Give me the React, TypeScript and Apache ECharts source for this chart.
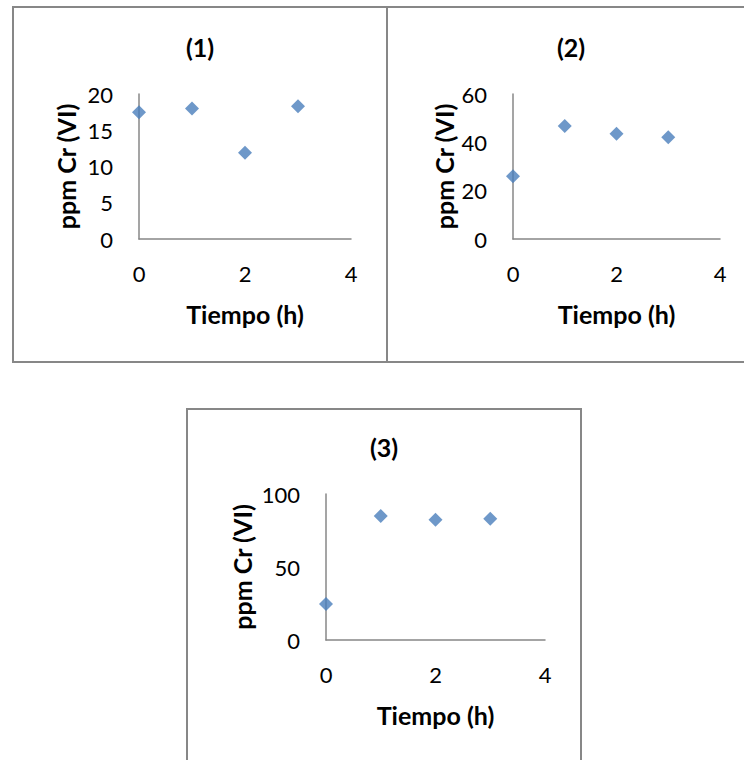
import React, { useEffect, useRef } from "react";
import * as echarts from "echarts";

const hours = [0, 1, 2, 3];
const panel1Values = [17.5, 18.0, 11.9, 18.3];
const panel2Values = [26.0, 46.8, 43.6, 42.1];
const panel3Values = [24.6, 85.0, 82.4, 83.1];
const panelTitles = ["(1)", "(2)", "(3)"];
const yMax = [20, 60, 100];
const yInterval = [5, 20, 50];
const xName = "Tiempo (h)";
const yName = "ppm Cr (VI)";

const FONT = "Lato, 'Open Sans', sans-serif";
const GRAY = "#878787";
const BLUE = "#4A7EBB";

export default function App() {
  const ref = useRef<HTMLDivElement>(null);
  useEffect(() => {
    if (!ref.current) return;
    const chart = echarts.init(ref.current, undefined, { renderer: "svg" });
    const values = [panel1Values, panel2Values, panel3Values];
    const grids = [
      { left: 139, top: 94, width: 212, height: 145 },
      { left: 513, top: 94, width: 207, height: 145 },
      { left: 326, top: 494, width: 219, height: 146 },
    ];
    const yNameGap = [73, 69, 84];
    const titlePos = [
      [200, 47],
      [571, 47],
      [384, 447],
    ];
    chart.setOption({
      animation: false,
      backgroundColor: "#ffffff",
      grid: grids.map((g) => ({ ...g, containLabel: false })),
      xAxis: grids.map((_, i) => ({
        type: "value",
        gridIndex: i,
        min: 0,
        max: 4,
        interval: 2,
        name: xName,
        nameLocation: "middle",
        nameGap: 75,
        nameTextStyle: {
          fontFamily: FONT,
          fontWeight: "bold",
          fontSize: 25,
          color: "#000",
          verticalAlign: "middle",
        },
        axisLine: { show: true, onZero: false, lineStyle: { color: GRAY, width: 1.5 } },
        axisTick: { show: false },
        splitLine: { show: false },
        axisLabel: { fontFamily: FONT, fontSize: 22, color: "#000", margin: 23 },
      })),
      yAxis: grids.map((_, i) => ({
        type: "value",
        gridIndex: i,
        min: 0,
        max: yMax[i],
        interval: yInterval[i],
        name: yName,
        nameLocation: "middle",
        nameGap: yNameGap[i],
        nameTextStyle: {
          fontFamily: FONT,
          fontWeight: "bold",
          fontSize: 25,
          color: "#000",
          verticalAlign: "middle",
        },
        axisLine: { show: true, onZero: false, lineStyle: { color: GRAY, width: 1.5 } },
        axisTick: { show: false },
        splitLine: { show: false },
        axisLabel: { fontFamily: FONT, fontSize: 22, color: "#000", margin: 26 },
      })),
      series: values.map((vals, i) => ({
        type: "scatter",
        xAxisIndex: i,
        yAxisIndex: i,
        symbol: "diamond",
        symbolSize: 14,
        itemStyle: { color: BLUE },
        data: hours.map((h, k) => [h, vals[k]]),
      })),
      graphic: [
        {
          type: "rect",
          shape: { x: 13, y: 7, width: 374, height: 355 },
          style: { fill: "none", stroke: GRAY, lineWidth: 2 },
        },
        {
          type: "rect",
          shape: { x: 387, y: 7, width: 362, height: 355 },
          style: { fill: "none", stroke: GRAY, lineWidth: 2 },
        },
        {
          type: "rect",
          shape: { x: 187, y: 409, width: 394, height: 360 },
          style: { fill: "none", stroke: GRAY, lineWidth: 2 },
        },
        ...panelTitles.map((t, i) => ({
          type: "text",
          x: titlePos[i][0],
          y: titlePos[i][1],
          style: {
            text: t,
            align: "center",
            verticalAlign: "middle",
            fontFamily: FONT,
            fontWeight: "bold",
            fontSize: 25,
            fill: "#000",
          },
        })),
      ],
    });
    return () => chart.dispose();
  }, []);
  return (
    <div
      ref={ref}
      style={{ position: "fixed", left: 0, top: 0, width: 744, height: 760, background: "#fff" }}
    />
  );
}
